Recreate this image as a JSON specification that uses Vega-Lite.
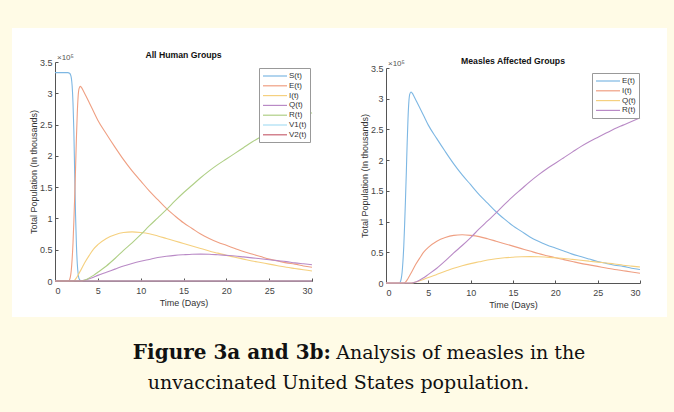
{
  "$schema": "https://vega.github.io/schema/vega-lite/v6.json",
  "background": "#FFFBE6",
  "padding": {"left": 12, "top": 28, "right": 7, "bottom": 0},
  "spacing": 0,
  "config": {
    "view": {"stroke": null},
    "font": "Liberation Sans",
    "text": {"font": "Liberation Sans"},
    "axis": {
      "grid": false,
      "domainColor": "#555555",
      "tickColor": "#555555",
      "tickSize": -3,
      "labelColor": "#444444",
      "labelFontSize": 9,
      "titleFontSize": 9,
      "titleFontWeight": "normal",
      "titleColor": "#333333",
      "labelFont": "Liberation Sans",
      "titleFont": "Liberation Sans"
    },
    "legend": {
      "labelFont": "Liberation Sans",
      "labelFontSize": 8,
      "labelColor": "#333333"
    }
  },
  "datasets": {
    "sim": [
      {"g": "S(t)", "t": 0, "v": 333000}, {"g": "S(t)", "t": 1.5, "v": 333000}, {"g": "S(t)", "t": 1.7, "v": 332000},
      {"g": "S(t)", "t": 1.8, "v": 330000}, {"g": "S(t)", "t": 1.9, "v": 325000}, {"g": "S(t)", "t": 2.0, "v": 312000},
      {"g": "S(t)", "t": 2.1, "v": 285000}, {"g": "S(t)", "t": 2.2, "v": 240000}, {"g": "S(t)", "t": 2.3, "v": 170000},
      {"g": "S(t)", "t": 2.4, "v": 105000}, {"g": "S(t)", "t": 2.5, "v": 58000}, {"g": "S(t)", "t": 2.6, "v": 28000},
      {"g": "S(t)", "t": 2.7, "v": 12000}, {"g": "S(t)", "t": 2.8, "v": 4000}, {"g": "S(t)", "t": 3.0, "v": 500},
      {"g": "S(t)", "t": 3.2, "v": 0}, {"g": "S(t)", "t": 30, "v": 0},

      {"g": "E(t)", "t": 0, "v": 0}, {"g": "E(t)", "t": 1.6, "v": 0}, {"g": "E(t)", "t": 1.7, "v": 2000},
      {"g": "E(t)", "t": 1.8, "v": 7000}, {"g": "E(t)", "t": 1.9, "v": 17000}, {"g": "E(t)", "t": 2.0, "v": 35000},
      {"g": "E(t)", "t": 2.1, "v": 60000}, {"g": "E(t)", "t": 2.2, "v": 95000}, {"g": "E(t)", "t": 2.3, "v": 135000},
      {"g": "E(t)", "t": 2.4, "v": 180000}, {"g": "E(t)", "t": 2.5, "v": 228000}, {"g": "E(t)", "t": 2.6, "v": 268000},
      {"g": "E(t)", "t": 2.7, "v": 295000}, {"g": "E(t)", "t": 2.8, "v": 307000}, {"g": "E(t)", "t": 2.95, "v": 311000},
      {"g": "E(t)", "t": 3.1, "v": 309000}, {"g": "E(t)", "t": 3.3, "v": 304000}, {"g": "E(t)", "t": 3.6, "v": 296000},
      {"g": "E(t)", "t": 4, "v": 285000}, {"g": "E(t)", "t": 4.5, "v": 271000}, {"g": "E(t)", "t": 5, "v": 257000},
      {"g": "E(t)", "t": 6, "v": 235000}, {"g": "E(t)", "t": 7, "v": 214000}, {"g": "E(t)", "t": 8, "v": 194000},
      {"g": "E(t)", "t": 9, "v": 176000}, {"g": "E(t)", "t": 10, "v": 160000}, {"g": "E(t)", "t": 11, "v": 144000},
      {"g": "E(t)", "t": 12, "v": 130000}, {"g": "E(t)", "t": 13, "v": 116000}, {"g": "E(t)", "t": 14, "v": 104000},
      {"g": "E(t)", "t": 15, "v": 93000}, {"g": "E(t)", "t": 16, "v": 84000}, {"g": "E(t)", "t": 17, "v": 75000},
      {"g": "E(t)", "t": 18, "v": 68000}, {"g": "E(t)", "t": 19, "v": 62000}, {"g": "E(t)", "t": 20, "v": 57000},
      {"g": "E(t)", "t": 21, "v": 52000}, {"g": "E(t)", "t": 22, "v": 47000}, {"g": "E(t)", "t": 23, "v": 43000},
      {"g": "E(t)", "t": 24, "v": 39000}, {"g": "E(t)", "t": 25, "v": 35000}, {"g": "E(t)", "t": 26, "v": 32000},
      {"g": "E(t)", "t": 27, "v": 29000}, {"g": "E(t)", "t": 28, "v": 27000}, {"g": "E(t)", "t": 29, "v": 24000},
      {"g": "E(t)", "t": 30, "v": 22000},

      {"g": "I(t)", "t": 0, "v": 0}, {"g": "I(t)", "t": 2.1, "v": 0}, {"g": "I(t)", "t": 2.3, "v": 1500},
      {"g": "I(t)", "t": 2.5, "v": 5000}, {"g": "I(t)", "t": 2.75, "v": 11000}, {"g": "I(t)", "t": 3, "v": 17000},
      {"g": "I(t)", "t": 3.5, "v": 30000}, {"g": "I(t)", "t": 4, "v": 41000}, {"g": "I(t)", "t": 4.5, "v": 51000},
      {"g": "I(t)", "t": 5, "v": 58000}, {"g": "I(t)", "t": 6, "v": 68000}, {"g": "I(t)", "t": 7, "v": 74000},
      {"g": "I(t)", "t": 8, "v": 77500}, {"g": "I(t)", "t": 9, "v": 78500}, {"g": "I(t)", "t": 10, "v": 77500},
      {"g": "I(t)", "t": 11, "v": 75500}, {"g": "I(t)", "t": 12, "v": 72000}, {"g": "I(t)", "t": 13, "v": 68000},
      {"g": "I(t)", "t": 14, "v": 64000}, {"g": "I(t)", "t": 15, "v": 60000}, {"g": "I(t)", "t": 16, "v": 56000},
      {"g": "I(t)", "t": 17, "v": 52000}, {"g": "I(t)", "t": 18, "v": 48000}, {"g": "I(t)", "t": 19, "v": 44500},
      {"g": "I(t)", "t": 20, "v": 41000}, {"g": "I(t)", "t": 21, "v": 38000}, {"g": "I(t)", "t": 22, "v": 35000},
      {"g": "I(t)", "t": 23, "v": 32000}, {"g": "I(t)", "t": 24, "v": 29500}, {"g": "I(t)", "t": 25, "v": 27000},
      {"g": "I(t)", "t": 26, "v": 24500}, {"g": "I(t)", "t": 27, "v": 22000}, {"g": "I(t)", "t": 28, "v": 20000},
      {"g": "I(t)", "t": 29, "v": 18000}, {"g": "I(t)", "t": 30, "v": 16000},

      {"g": "Q(t)", "t": 0, "v": 0}, {"g": "Q(t)", "t": 3, "v": 0}, {"g": "Q(t)", "t": 3.5, "v": 1500},
      {"g": "Q(t)", "t": 4, "v": 3500}, {"g": "Q(t)", "t": 4.5, "v": 6000}, {"g": "Q(t)", "t": 5, "v": 9000},
      {"g": "Q(t)", "t": 6, "v": 14000}, {"g": "Q(t)", "t": 7, "v": 19000}, {"g": "Q(t)", "t": 8, "v": 24000},
      {"g": "Q(t)", "t": 9, "v": 28000}, {"g": "Q(t)", "t": 10, "v": 31500}, {"g": "Q(t)", "t": 11, "v": 34500},
      {"g": "Q(t)", "t": 12, "v": 37500}, {"g": "Q(t)", "t": 13, "v": 39500}, {"g": "Q(t)", "t": 14, "v": 41000},
      {"g": "Q(t)", "t": 15, "v": 42000}, {"g": "Q(t)", "t": 16, "v": 42800}, {"g": "Q(t)", "t": 17, "v": 43000},
      {"g": "Q(t)", "t": 18, "v": 42800}, {"g": "Q(t)", "t": 19, "v": 42000}, {"g": "Q(t)", "t": 20, "v": 41000},
      {"g": "Q(t)", "t": 21, "v": 40000}, {"g": "Q(t)", "t": 22, "v": 38500}, {"g": "Q(t)", "t": 23, "v": 37000},
      {"g": "Q(t)", "t": 24, "v": 35500}, {"g": "Q(t)", "t": 25, "v": 34000}, {"g": "Q(t)", "t": 26, "v": 32500},
      {"g": "Q(t)", "t": 27, "v": 31000}, {"g": "Q(t)", "t": 28, "v": 29000}, {"g": "Q(t)", "t": 29, "v": 27500},
      {"g": "Q(t)", "t": 30, "v": 26000},

      {"g": "R(t)", "t": 0, "v": 0}, {"g": "R(t)", "t": 3, "v": 0}, {"g": "R(t)", "t": 3.5, "v": 1500},
      {"g": "R(t)", "t": 4, "v": 5000}, {"g": "R(t)", "t": 4.5, "v": 9000}, {"g": "R(t)", "t": 5, "v": 14000},
      {"g": "R(t)", "t": 6, "v": 24000}, {"g": "R(t)", "t": 7, "v": 36000}, {"g": "R(t)", "t": 8, "v": 49000},
      {"g": "R(t)", "t": 9, "v": 61000}, {"g": "R(t)", "t": 10, "v": 74000}, {"g": "R(t)", "t": 11, "v": 88000},
      {"g": "R(t)", "t": 12, "v": 101000}, {"g": "R(t)", "t": 13, "v": 114000}, {"g": "R(t)", "t": 14, "v": 128000},
      {"g": "R(t)", "t": 15, "v": 141000}, {"g": "R(t)", "t": 16, "v": 153000}, {"g": "R(t)", "t": 17, "v": 165000},
      {"g": "R(t)", "t": 18, "v": 176000}, {"g": "R(t)", "t": 19, "v": 186000}, {"g": "R(t)", "t": 20, "v": 195000},
      {"g": "R(t)", "t": 21, "v": 204000}, {"g": "R(t)", "t": 22, "v": 213000}, {"g": "R(t)", "t": 23, "v": 222000},
      {"g": "R(t)", "t": 24, "v": 230000}, {"g": "R(t)", "t": 25, "v": 237000}, {"g": "R(t)", "t": 26, "v": 244000},
      {"g": "R(t)", "t": 27, "v": 251000}, {"g": "R(t)", "t": 28, "v": 257000}, {"g": "R(t)", "t": 29, "v": 263000},
      {"g": "R(t)", "t": 30, "v": 269000},

      {"g": "V1(t)", "t": 0, "v": 0}, {"g": "V1(t)", "t": 30, "v": 0},
      {"g": "V2(t)", "t": 0, "v": 0}, {"g": "V2(t)", "t": 30, "v": 0}
    ]
  },
  "vconcat": [
    {
      "width": 655,
      "height": 289,
      "view": {"fill": "white", "stroke": null},
      "data": {"name": "sim"},
      "layer": [
        {
          "layer": [
            {
              "mark": {"type": "line", "strokeWidth": 1.1, "interpolate": "monotone"},
              "encoding": {
                "x": {
                  "field": "t", "type": "quantitative",
                  "scale": {"domain": [0, 30], "range": [43, 300], "nice": false, "zero": false},
                  "axis": {"orient": "bottom", "offset": -36, "values": [0, 5, 10, 15, 20, 25, 30], "title": "Time (Days)", "labelPadding": 8, "titlePadding": 3}
                },
                "y": {
                  "field": "v", "type": "quantitative",
                  "scale": {"domain": [0, 350000], "range": [253, 34], "nice": false},
                  "axis": {"orient": "left", "offset": -43, "values": [0, 50000, 100000, 150000, 200000, 250000, 300000, 350000], "labelExpr": "'' + datum.value / 100000", "title": "Total Population (In thousands)", "labelPadding": 6, "titlePadding": 1}
                },
                "color": {
                  "field": "g", "type": "nominal",
                  "scale": {
                    "domain": ["S(t)", "E(t)", "I(t)", "Q(t)", "R(t)", "V1(t)", "V2(t)"],
                    "range": ["#7DB7E3", "#EF9F82", "#F5D07F", "#B98AC6", "#AFCF86", "#A8DDF4", "#C86574"]
                  },
                  "legend": {
                    "orient": "none", "legendX": 247, "legendY": 40, "title": null,
                    "strokeColor": "#999999", "fillColor": "white", "padding": 3,
                    "symbolType": "M-1,0H5", "symbolSize": 64, "symbolStrokeWidth": 1.2,
                    "labelOffset": 17, "rowPadding": 0.8
                  }
                }
              }
            },
            {
              "data": {"values": [{}]},
              "mark": {"type": "text", "text": "All Human Groups", "fontWeight": "bold", "fontSize": 8.7, "color": "#111111", "baseline": "middle"},
              "encoding": {
                "x": {"datum": 15, "type": "quantitative"},
                "y": {"datum": 361000, "type": "quantitative"}
              }
            },
            {
              "data": {"values": [{}]},
              "mark": {"type": "text", "text": "×10⁵", "fontSize": 8, "color": "#555555", "align": "left", "baseline": "alphabetic", "dx": 2, "dy": -2},
              "encoding": {
                "x": {"datum": 0, "type": "quantitative"},
                "y": {"datum": 350000, "type": "quantitative"}
              }
            }
          ]
        },
        {
          "transform": [{"filter": {"field": "g", "oneOf": ["E(t)", "I(t)", "Q(t)", "R(t)"]}}],
          "layer": [
            {
              "mark": {"type": "line", "strokeWidth": 1.1, "interpolate": "monotone"},
              "encoding": {
                "x": {
                  "field": "t", "type": "quantitative",
                  "scale": {"domain": [0, 30], "range": [374, 628], "nice": false, "zero": false},
                  "axis": {"orient": "bottom", "offset": -34, "values": [0, 5, 10, 15, 20, 25, 30], "title": "Time (Days)", "labelPadding": 8, "titlePadding": 3}
                },
                "y": {
                  "field": "v", "type": "quantitative",
                  "scale": {"domain": [0, 350000], "range": [255, 40], "nice": false},
                  "axis": {"orient": "left", "offset": -374, "values": [0, 50000, 100000, 150000, 200000, 250000, 300000, 350000], "labelExpr": "'' + datum.value / 100000", "title": "Total Population (In thousands)", "labelPadding": 6, "titlePadding": 1}
                },
                "color": {
                  "field": "g", "type": "nominal",
                  "scale": {
                    "domain": ["E(t)", "I(t)", "Q(t)", "R(t)"],
                    "range": ["#7DB7E3", "#EF9F82", "#F5D07F", "#B98AC6"]
                  },
                  "legend": {
                    "orient": "none", "legendX": 580, "legendY": 45, "title": null,
                    "strokeColor": "#999999", "fillColor": "white", "padding": 3,
                    "symbolType": "M-1,0H5", "symbolSize": 64, "symbolStrokeWidth": 1.2,
                    "labelOffset": 17, "rowPadding": 0.8
                  }
                }
              }
            },
            {
              "data": {"values": [{}]},
              "mark": {"type": "text", "text": "Measles Affected Groups", "fontWeight": "bold", "fontSize": 8.7, "color": "#111111", "baseline": "middle"},
              "encoding": {
                "x": {"datum": 15, "type": "quantitative"},
                "y": {"datum": 362000, "type": "quantitative"}
              }
            },
            {
              "data": {"values": [{}]},
              "mark": {"type": "text", "text": "×10⁵", "fontSize": 8, "color": "#555555", "align": "left", "baseline": "alphabetic", "dx": 2, "dy": -2},
              "encoding": {
                "x": {"datum": 0, "type": "quantitative"},
                "y": {"datum": 350000, "type": "quantitative"}
              }
            }
          ]
        }
      ],
      "resolve": {
        "scale": {"x": "independent", "y": "independent", "color": "independent"},
        "axis": {"x": "independent", "y": "independent"},
        "legend": {"color": "independent"}
      }
    },
    {
      "width": 655,
      "height": 95,
      "view": {"stroke": null},
      "data": {"values": [{}]},
      "layer": [
        {
          "mark": {"type": "text", "text": "Figure 3a and 3b:", "font": "DejaVu Serif", "fontSize": 20, "fontWeight": "bold", "align": "right", "baseline": "alphabetic", "color": "#111111"},
          "encoding": {
            "x": {"datum": 0.487, "type": "quantitative", "scale": {"domain": [0, 1], "nice": false, "zero": false}, "axis": null},
            "y": {"datum": 0.558, "type": "quantitative", "scale": {"domain": [0, 1], "nice": false, "zero": false}, "axis": null}
          }
        },
        {
          "mark": {"type": "text", "text": "Analysis of measles in the", "font": "DejaVu Serif", "fontSize": 19, "align": "left", "baseline": "alphabetic", "color": "#111111"},
          "encoding": {
            "x": {"datum": 0.495, "type": "quantitative"},
            "y": {"datum": 0.558, "type": "quantitative"}
          }
        },
        {
          "mark": {"type": "text", "text": "unvaccinated United States population.", "font": "DejaVu Serif", "fontSize": 19, "align": "center", "baseline": "alphabetic", "color": "#111111"},
          "encoding": {
            "x": {"datum": 0.4985, "type": "quantitative"},
            "y": {"datum": 0.242, "type": "quantitative"}
          }
        }
      ]
    }
  ]
}
